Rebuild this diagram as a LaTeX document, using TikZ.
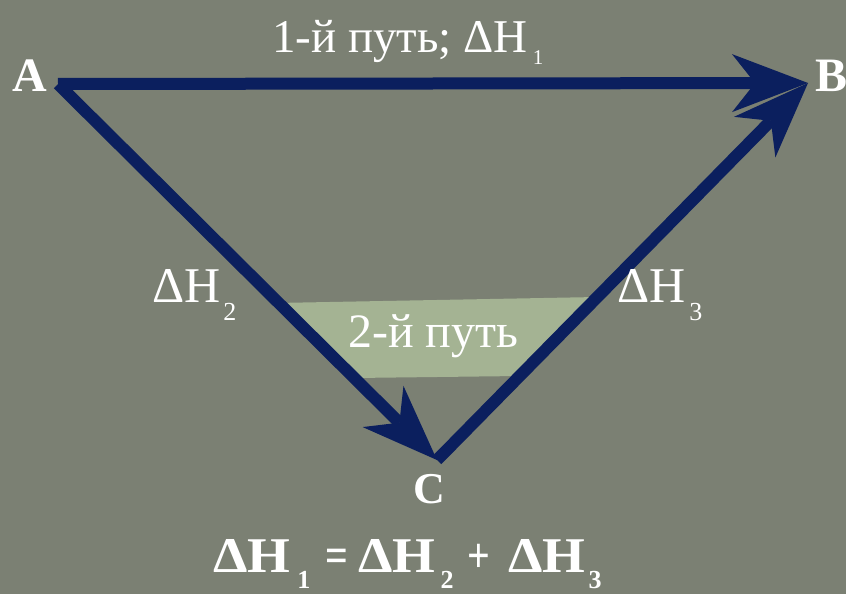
\documentclass[tikz,border=0pt]{standalone}
\usepackage{fontspec}
\setmainfont{Liberation Serif}
\usetikzlibrary{arrows.meta}
\definecolor{bgc}{HTML}{7B8073}
\definecolor{bandc}{HTML}{A4B393}
\definecolor{navy}{HTML}{0B1F5E}
\newcommand{\fs}[1]{\fontsize{#1}{#1}\selectfont}
\newcommand{\lowsub}[3]{\raisebox{-#1}{\fs{#2}#3}}
\newcommand{\wideDH}{\scalebox{1.1}[1]{ΔH}}
\newcommand{\narrowop}[1]{\scalebox{0.8}[1]{#1}}
\tikzset{
  vec/.style={draw=navy, line width=12pt, -{Stealth[length=76pt,width=58pt,inset=23pt,line width=0pt]}},
  lbl/.style={text=white, inner sep=0pt, anchor=base west},
}
\begin{document}
\begin{tikzpicture}[x=1pt,y=-1pt]
\fill[bgc] (0,0) rectangle (846,594);
\useasboundingbox (0,0) rectangle (846,594);
\coordinate (A) at (58,84);
\coordinate (B) at (808,83);
\coordinate (C) at (437,460);
% green band behind the second path label
\fill[bandc] (276,303) -- (597,297) -- (520,376) -- (354,378) -- cycle;
\node[lbl] (p2) at (348,347) {\fs{48}2-й путь};
% arrows
\draw[vec] (A) -- (C);
\draw[vec] (C) -- (B);
\draw[vec] (A) -- (B);
% labels
\node[lbl] (l1) at (272,53) {\fs{47}1-й путь; ΔH\hspace{5pt}\lowsub{12pt}{21}{1}};
\node[lbl] (l2) at (152,302) {\fs{50}ΔH\hspace{3pt}\lowsub{18pt}{26}{2}};
\node[lbl] (l3) at (617,302) {\fs{50}ΔH\hspace{4pt}\lowsub{18pt}{26}{3}};
\node[lbl,font=\bfseries] (a) at (12,92) {\fs{48}A};
\node[lbl,font=\bfseries] (b) at (815,92) {\fs{48}B};
\node[lbl,font=\bfseries] (c) at (413,503) {\fs{44}C};
\node[lbl,font=\bfseries] (eq) at (213,572) {\fs{50}\wideDH\hspace{7pt}\lowsub{16pt}{26}{1}\hspace{15pt}\narrowop{=}\hspace{10pt}\wideDH\hspace{5pt}\lowsub{16pt}{26}{2}\hspace{14pt}\narrowop{+}\hspace{18pt}\wideDH\hspace{3pt}\lowsub{16pt}{26}{3}};
\end{tikzpicture}
\end{document}
